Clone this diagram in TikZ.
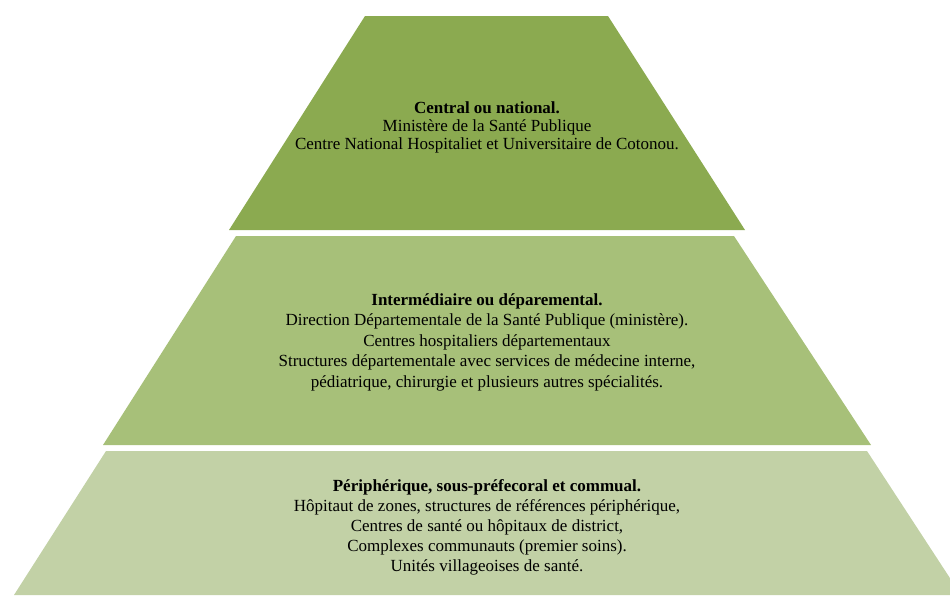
\documentclass[tikz,border=0pt]{standalone}
\usepackage{fontspec}
\setmainfont{Liberation Serif}

\begin{document}
\begin{tikzpicture}
    [
        x=1pt,y=-1pt,
        level/.style={draw=none},
        levtxt/.style={align=center,inner sep=0pt,font=\fontsize{17}{18}\selectfont},
    ]
    \useasboundingbox (0,0) rectangle (950,595);
    \clip (0,0) rectangle (950,595);
    % The three levels of the pyramid
    \fill[level,fill={rgb,255:red,139;green,170;blue,80}]
    (365,16) -- (608,16) -- (745,230) -- (229,230) -- cycle;
    \fill[level,fill={rgb,255:red,167;green,192;blue,121}]
    (236,236) -- (734,236) -- (871,445) -- (103,445) -- cycle;
    \fill[level,fill={rgb,255:red,194;green,209;blue,166}]
    (106,451) -- (867,451) -- (961,595) -- (14,595) -- cycle;
    % The texts
    \node[levtxt] (central) at (487,127)
    {\textbf{Central ou national.}\\
    Ministère de la Santé Publique\\
    Centre National Hospitaliet et Universitaire de Cotonou.};
    \node[levtxt,font=\fontsize{17}{20.5}\selectfont] (interm) at (487,342)
    {\textbf{Intermédiaire ou déparemental.}\\
    Direction Départementale de la Santé Publique (ministère).\\
    Centres hospitaliers départementaux\\
    Structures départementale avec services de médecine interne,\\
    pédiatrique, chirurgie et plusieurs autres spécialités.};
    \node[levtxt,font=\fontsize{17}{20}\selectfont] (periph) at (487,527)
    {\textbf{Périphérique, sous-préfecoral et commual.}\\
    Hôpitaut de zones, structures de références périphérique,\\
    Centres de santé ou hôpitaux de district,\\
    Complexes communauts (premier soins).\\
    Unités villageoises de santé.};
\end{tikzpicture}
\end{document}
